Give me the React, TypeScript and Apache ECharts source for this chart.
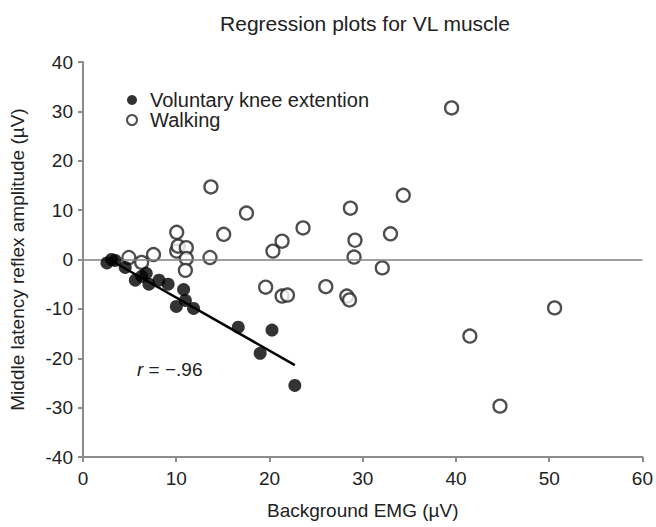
import React, { useEffect, useRef } from "react";
import * as echarts from "echarts";

const titleText = "Regression plots for VL muscle";
const xAxisName = "Background EMG (µV)";
const yAxisName = "Middle latency reflex amplitude (µV)";
const voluntaryName = "Voluntary knee extention";
const walkingName = "Walking";

const voluntaryX = [2.57, 3.06, 3.45, 4.53, 5.61, 6.29, 6.78, 7.07, 8.15, 9.13, 10.01, 10.79, 10.98, 11.86, 16.65, 19.0, 20.27, 22.72];
const voluntaryY = [-0.7, 0.0, -0.2, -1.6, -4.2, -3.4, -2.8, -5.0, -4.2, -5.0, -9.5, -6.1, -8.3, -9.9, -13.7, -19.0, -14.3, -25.5];

const walkingX = [4.92, 6.29, 7.56, 10.05, 10.05, 10.2, 11.08, 11.08, 10.98, 13.72, 13.62, 15.09, 17.53, 19.59, 20.37, 21.35, 21.35, 21.93, 23.6, 26.04, 28.29, 28.58, 28.68, 29.17, 29.07, 32.1, 32.98, 34.35, 39.53, 41.49, 44.72, 50.58];
const walkingY = [0.4, -0.6, 1.0, 5.5, 1.7, 2.7, 2.4, 0.2, -2.2, 14.7, 0.4, 5.1, 9.4, -5.6, 1.7, 3.7, -7.4, -7.2, 6.4, -5.5, -7.4, -8.2, 10.4, 3.9, 0.5, -1.7, 5.2, 13.0, 30.7, -15.5, -29.7, -9.8];

const regressionX = [2.82, 22.72];
const regressionY = [0.0, -21.4];

const xTicks = { min: 0, max: 60, interval: 10 };
const yTicks = { min: -40, max: 40, interval: 10 };

const rLabel = "= −.96";

export default function App() {
  const ref = useRef<HTMLDivElement>(null);
  useEffect(() => {
    if (!ref.current) return;
    document.body.style.margin = "0";
    document.body.style.overflow = "hidden";
    const chart = echarts.init(ref.current, null, { renderer: "svg" });
    const font = "'Liberation Sans', Arial, sans-serif";
    const axisColor = "#8c8c8c";
    const textColor = "#222";
    chart.setOption({
      animation: false,
      textStyle: { fontFamily: font },
      title: {
        text: titleText,
        left: 360,
        top: 8,
        textAlign: "center",
        textStyle: { fontSize: 21, fontWeight: "normal", color: textColor, fontFamily: font },
      },
      grid: { left: 80, right: 12, top: 62, bottom: 70 },
      legend: {
        orient: "vertical",
        left: 126,
        top: 90,
        padding: 0,
        itemWidth: 10,
        itemHeight: 10,
        itemGap: 0,
        textStyle: { fontSize: 20, color: textColor, fontFamily: font, padding: [0, 0, 0, 8] },
        data: [voluntaryName, walkingName],
      },
      xAxis: {
        type: "value",
        ...xTicks,
        name: xAxisName,
        nameLocation: "middle",
        nameGap: 44,
        nameTextStyle: { fontSize: 19, color: textColor, fontFamily: font },
        axisLine: { onZero: false, lineStyle: { color: axisColor, width: 2 } },
        axisTick: { show: true, length: 5, lineStyle: { color: axisColor, width: 2 } },
        axisLabel: { fontSize: 19, color: textColor, margin: 12, fontFamily: font },
        splitLine: { show: false },
      },
      yAxis: {
        type: "value",
        ...yTicks,
        name: yAxisName,
        nameLocation: "middle",
        nameGap: 56,
        nameTextStyle: { fontSize: 19, color: textColor, fontFamily: font },
        axisLine: { onZero: false, lineStyle: { color: axisColor, width: 2 } },
        axisTick: { show: true, length: 5, lineStyle: { color: axisColor, width: 2 } },
        axisLabel: { fontSize: 19, color: textColor, margin: 10, fontFamily: font },
        splitLine: { show: false },
      },
      graphic: [
        {
          type: "text",
          left: 137,
          top: 360,
          style: {
            text: "{i|r} " + rLabel,
            rich: {
              i: { fontStyle: "italic", fontSize: 19, fill: textColor, fontFamily: font },
            },
            fontSize: 19,
            fill: textColor,
            fontFamily: font,
          },
        },
      ],
      series: [
        {
          name: "zero",
          type: "line",
          data: [],
          silent: true,
          markLine: {
            silent: true,
            symbol: ["none", "none"],
            label: { show: false },
            lineStyle: { color: "#808080", width: 1.5, type: "solid" },
            data: [{ yAxis: 0 }],
          },
        },
        {
          name: "regression",
          type: "line",
          data: regressionX.map((x, i) => [x, regressionY[i]]),
          symbol: "none",
          lineStyle: { color: "#000", width: 2.5 },
          z: 3,
        },
        {
          name: walkingName,
          type: "scatter",
          data: walkingX.map((x, i) => [x, walkingY[i]]),
          symbol: "circle",
          symbolSize: 13,
          itemStyle: { color: "#fff", borderColor: "#222", borderWidth: 2.3 },
          z: 4,
        },
        {
          name: voluntaryName,
          type: "scatter",
          data: voluntaryX.map((x, i) => [x, voluntaryY[i]]),
          symbol: "circle",
          symbolSize: 13,
          itemStyle: { color: "#000" },
          z: 5,
        },
      ],
    });
    return () => chart.dispose();
  }, []);
  return <div ref={ref} style={{ width: 656, height: 527 }} />;
}
